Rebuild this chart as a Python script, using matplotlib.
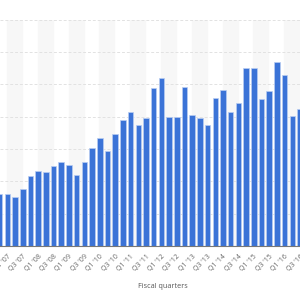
import matplotlib
matplotlib.use("Agg")
import matplotlib.pyplot as plt

plt.rcParams['font.family'] = ['Open Sans', 'DejaVu Sans']

# quarters Q4 '06 .. Q3 '16 (arbitrary units)
quarters = ["Q4 '06"]
for yr in range(7, 17):
    for q in range(1, 5):
        quarters.append("Q%d '%02d" % (q, yr))
quarters = quarters[:40]
values = [8.0, 8.0, 7.54, 8.78, 10.79, 11.61, 11.41, 12.43, 13.0, 12.54,
          11.04, 13.0, 15.17, 16.77, 14.71, 17.34, 19.46, 20.70, 18.73, 19.77,
          24.46, 25.96, 20.02, 20.02, 24.57, 20.23, 19.77, 18.73, 22.87, 24.15,
          20.70, 22.06, 27.60, 27.60, 22.76, 24.0, 28.48, 26.47, 20.12, 21.21]
gridvals = [0, 5, 10, 15, 20, 25, 30, 35]

fig = plt.figure(figsize=(3, 3), dpi=100)
ax = fig.add_axes([0, 0.18, 1, 0.7543])

x = list(range(len(values)))
for j in range(0, 40, 4):
    ax.axvspan(j + 0.95, j + 2.9, color='#f7f7f7', zorder=0)
for g in gridvals[1:]:
    ax.axhline(g, color='#e2e2e2', lw=0.7, ls=(0, (3, 2)), zorder=1)

ax.bar(x, values, width=0.72, color='#3b73d7', edgecolor='#b9cdf2',
       linewidth=0.5, zorder=2)

ax.set_xlim(0.045, 38.755)
ax.set_ylim(0, 35)
ax.set_yticks([])
ax.set_xticks(x[1::2])
ax.set_xticklabels(quarters[1::2], rotation=45, ha='right',
                   rotation_mode='anchor', fontsize=5, color='#666666')
ax.tick_params(axis='x', length=0, pad=5)
for s in ['top', 'right', 'left']:
    ax.spines[s].set_visible(False)
ax.spines['bottom'].set_color('#777777')
ax.spines['bottom'].set_linewidth(0.8)

fig.text(163 / 300, 1 - 287 / 300, 'Fiscal quarters', fontsize=5.2,
         color='#555555', ha='center', va='center')

fig.savefig('out.png', dpi=100)
